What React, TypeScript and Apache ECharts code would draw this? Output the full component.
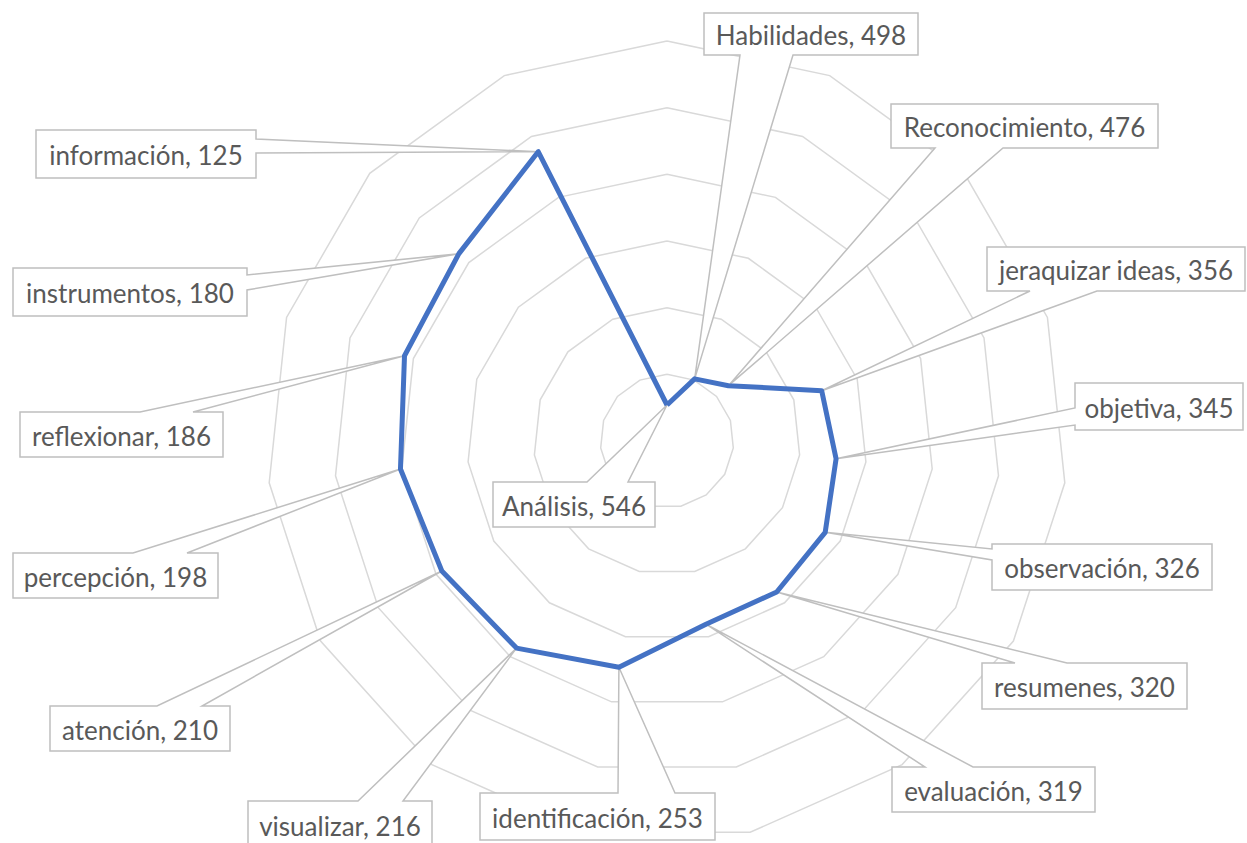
import React, { useEffect, useRef } from "react";
import * as echarts from "echarts";

// ---- data ----
const categories: string[] = [
  "Análisis",
  "Habilidades",
  "Reconocimiento",
  "jeraquizar ideas",
  "objetiva",
  "observación",
  "resumenes",
  "evaluación",
  "identificación",
  "visualizar",
  "atención",
  "percepción",
  "reflexionar",
  "instrumentos",
  "información",
];
const values: number[] = [546, 498, 476, 356, 345, 326, 320, 319, 253, 216, 210, 198, 186, 180, 125];
const axisMin = 0;
const axisMax = 600;
const splitCount = 6;

// ---- layout (callout boxes: x, y, w, h, edge of wedge, wedge base a, b) ----
const CX = 667;
const CY = 441;
const R = 400;
type Box = [number, number, number, number, string, number, number];
const boxes: Box[] = [
  [493, 482, 162, 45, "top", 587, 628],
  [704, 13, 214, 42, "bottom", 740, 793],
  [891, 104, 267, 44, "bottom", 935, 1003],
  [987, 247, 258, 44, "bottom", 1030, 1097],
  [1075, 383, 168, 47, "left", 408, 425],
  [992, 544, 220, 46, "left", 549, 560],
  [982, 663, 205, 46, "top", 1015, 1067],
  [892, 767, 203, 45, "top", 925, 973],
  [480, 793, 235, 47, "top", 618, 675],
  [248, 801, 184, 47, "top", 358, 403],
  [50, 706, 180, 45, "top", 157, 202],
  [13, 553, 205, 45, "top", 133, 187],
  [20, 412, 203, 45, "top", 140, 193],
  [13, 268, 234, 48, "right", 275, 290],
  [36, 130, 220, 48, "right", 139, 153],
];

function pointFor(i: number): [number, number] {
  const n = categories.length;
  const theta = (i * 2 * Math.PI) / n; // clockwise from top
  const r = (R * (axisMax - values[i])) / (axisMax - axisMin); // reversed axis
  return [CX + r * Math.sin(theta), CY - r * Math.cos(theta)];
}

function calloutPoints(b: Box, tip: [number, number]): number[][] {
  const [x, y, w, h, edge, a, c] = b;
  const x2 = x + w;
  const y2 = y + h;
  const pts: number[][] = [[x, y]];
  if (edge === "top") pts.push([a, y], tip, [c, y]);
  pts.push([x2, y]);
  if (edge === "right") pts.push([x2, a], tip, [x2, c]);
  pts.push([x2, y2]);
  if (edge === "bottom") pts.push([c, y2], tip, [a, y2]);
  pts.push([x, y2]);
  if (edge === "left") pts.push([x, c], tip, [x, a]);
  return pts;
}

export default function App() {
  const ref = useRef<HTMLDivElement>(null);
  useEffect(() => {
    if (!ref.current) return;
    const chart = echarts.init(ref.current, null, { renderer: "svg" });
    const n = categories.length;
    // echarts radar runs counter-clockwise: reorder so categories appear clockwise
    const order = [0, ...Array.from({ length: n - 1 }, (_, k) => n - 1 - k)];
    const indicator = order.map((i) => ({ name: categories[i], min: axisMin, max: axisMax }));
    const seriesValues = order.map((i) => axisMax - values[i]);

    const graphics: any[] = [];
    categories.forEach((cat, i) => {
      const b = boxes[i];
      const tip = pointFor(i);
      graphics.push({
        type: "polygon",
        z: 1,
        shape: { points: calloutPoints(b, tip) },
        style: { fill: "#ffffff", stroke: "#bfbfbf", lineWidth: 1.5 },
      });
      graphics.push({
        type: "text",
        z: 1,
        x: b[0] + b[2] / 2,
        y: b[1] + b[3] / 2 + 1,
        style: {
          text: `${cat}, ${values[i]}`,
          fill: "#595959",
          font: '26px Lato, "Open Sans", sans-serif',
          textAlign: "center",
          textVerticalAlign: "middle",
        },
      });
    });

    chart.setOption({
      animation: false,
      backgroundColor: "#ffffff",
      radar: {
        center: [CX, CY],
        radius: R,
        startAngle: 90,
        splitNumber: splitCount,
        shape: "polygon",
        indicator,
        axisName: { show: false },
        axisLine: { show: false },
        axisTick: { show: false },
        axisLabel: { show: false },
        splitArea: { show: false },
        splitLine: { lineStyle: { color: "#d9d9d9", width: 1.5 } },
      },
      graphic: { elements: graphics },
      series: [
        {
          type: "radar",
          z: 3,
          symbol: "none",
          lineStyle: { color: "#4472C4", width: 5 },
          data: [{ value: seriesValues, name: "Serie" }],
        },
      ],
    });
    return () => chart.dispose();
  }, []);
  return (
    <div
      ref={ref}
      style={{ position: "absolute", left: 0, top: 0, width: 1247, height: 843 }}
    />
  );
}
